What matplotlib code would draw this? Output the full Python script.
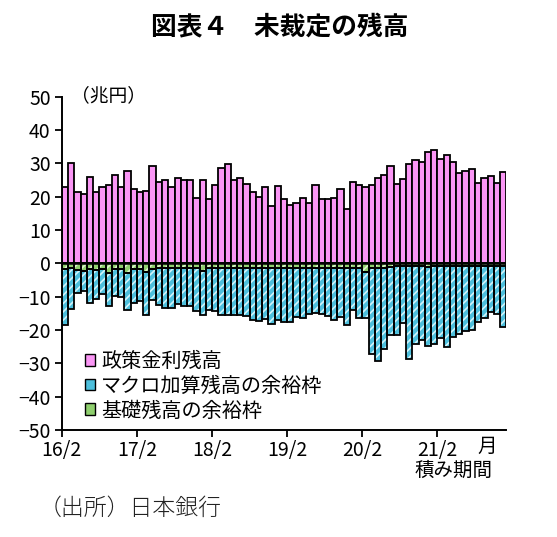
import matplotlib
matplotlib.use("Agg")
import matplotlib.pyplot as plt
from matplotlib.patches import Patch
import numpy as np

plt.rcParams['font.family'] = ['Noto Sans CJK JP', 'DejaVu Sans']
plt.rcParams['hatch.linewidth'] = 1.2

# 積み期間 16/2 .. 21/12 (monthly)
tick_labels = ['16/2', '17/2', '18/2', '19/2', '20/2', '21/2']

# 政策金利残高 (兆円)
policy = [22.9, 30.1, 21.4, 20.9, 26.0, 21.4, 22.9, 23.4, 26.6, 22.9,
          27.6, 22.3, 21.3, 21.8, 29.1, 24.4, 25.0, 22.9, 25.5, 24.9,
          24.9, 19.7, 24.9, 19.2, 23.4, 28.5, 29.7, 24.9, 25.5, 23.9,
          21.4, 19.9, 22.9, 17.2, 23.3, 19.2, 17.6, 18.2, 19.7, 18.2,
          23.4, 19.2, 19.2, 19.7, 22.3, 16.2, 24.4, 23.4, 22.9, 23.4,
          25.5, 26.6, 29.1, 23.7, 25.3, 29.9, 30.9, 30.4, 33.4, 33.9,
          31.4, 32.4, 30.4, 27.2, 27.7, 28.2, 24.2, 25.7, 26.2, 24.2,
          27.3]

# 基礎残高の余裕枠 (兆円, drawn below zero)
basic = [-1.8, -1.3, -2.0, -2.3, -1.8, -2.0, -1.8, -3.0, -1.8, -1.8,
         -3.0, -1.8, -1.8, -2.5, -1.8, -1.5, -1.5, -1.5, -1.5, -1.5,
         -1.5, -1.5, -2.2, -1.5, -1.5, -1.5, -1.5, -1.5, -1.5, -1.5,
         -1.5, -1.5, -1.5, -1.5, -1.5, -1.5, -1.5, -1.5, -1.5, -1.5,
         -1.5, -1.5, -1.5, -1.5, -1.5, -1.5, -1.5, -1.5, -2.5, -1.5,
         -1.5, -1.5, -1.2, -0.7, -0.7, -0.7, -0.7, -0.7, -1.2, -0.7,
         -0.7, -0.7, -0.7, -0.7, -0.7, -0.7, -0.7, -0.7, -0.7, -0.7,
         -0.7]

# マクロ加算残高の余裕枠 (兆円, stacked below basic)
macro = [-16.7, -12.3, -6.8, -6.0, -10.0, -8.7, -7.3, -9.8, -8.1, -8.3,
         -10.9, -10.1, -9.5, -13.1, -9.1, -11.0, -12.0, -12.0, -10.6, -11.3,
         -11.3, -12.8, -13.4, -12.4, -12.8, -14.1, -14.1, -14.1, -14.1, -14.4,
         -15.4, -15.7, -15.2, -16.7, -15.4, -16.2, -16.2, -14.7, -14.9, -13.7,
         -13.5, -13.7, -14.4, -15.5, -14.5, -17.0, -12.5, -15.0, -14.0, -25.8,
         -27.8, -24.3, -20.3, -20.8, -17.3, -28.1, -23.6, -22.3, -23.6, -23.6,
         -21.8, -24.5, -21.5, -20.5, -19.5, -19.3, -17.0, -15.8, -13.8, -14.5,
         -18.3]

PINK = '#FA96F5'
BLUE = '#4DBFDC'
BLUE_H = '#D2F4FB'
GREEN = '#8FCF6E'
GREEN_H = '#DDF2CF'

x = np.arange(len(policy))
fig = plt.figure(figsize=(5.57, 5.37), dpi=100)
ax = fig.add_axes([0.111, 0.199, 0.798, 0.621])

ax.bar(x, policy, width=1.0, color=PINK, edgecolor='black', linewidth=1.3, zorder=2)

# hatched layers: fill + hatch first, black outline on top
ax.bar(x, basic, width=1.0, color=GREEN, edgecolor=GREEN_H, hatch='////', linewidth=0, zorder=2)
ax.bar(x, basic, width=1.0, fill=False, edgecolor='black', linewidth=1.3, zorder=3)
ax.bar(x, macro, width=1.0, bottom=basic, color=BLUE, edgecolor=BLUE_H, hatch='////', linewidth=0, zorder=2)
ax.bar(x, macro, width=1.0, bottom=basic, fill=False, edgecolor='black', linewidth=1.3, zorder=3)

ax.axhline(0, color='black', linewidth=1.8, zorder=4)

ax.set_xlim(-0.5, len(policy) - 0.5)
ax.set_ylim(-50, 50)
ax.set_yticks(np.arange(-50, 51, 10))
ax.set_xticks(np.arange(len(tick_labels)) * 12 - 0.5)
ax.set_xticklabels(tick_labels)
ax.tick_params(axis='both', labelsize=14, length=5, width=1.3, direction='out')
ax.tick_params(axis='y', pad=3)
ax.tick_params(axis='x', pad=2)
for side in ['top', 'right']:
    ax.spines[side].set_visible(False)
for side in ['left', 'bottom']:
    ax.spines[side].set_linewidth(1.4)

handles = [Patch(facecolor=PINK, edgecolor='black', linewidth=1.0),
           Patch(facecolor=BLUE, edgecolor='black', linewidth=1.0),
           Patch(facecolor=GREEN, edgecolor='black', linewidth=1.0)]
labels = ['政策金利残高', 'マクロ加算残高の余裕枠', '基礎残高の余裕枠']
ax.legend(handles, labels, loc='lower left', bbox_to_anchor=(0.025, -0.01),
          frameon=False, fontsize=14.5, handlelength=0.5, handleheight=0.5,
          handletextpad=0.3, labelspacing=0.18, borderaxespad=0.2)

fig.text(0.503, 0.948, '図表４　未裁定の残高', ha='center', va='center',
         fontsize=18.5, fontweight='bold')
fig.text(0.127, 0.821, '（兆円）', ha='left', va='center', fontsize=13.5)
fig.text(0.857, 0.168, '月', ha='left', va='center', fontsize=14)
fig.text(0.815, 0.124, '積み期間', ha='center', va='center', fontsize=14)
fig.text(0.070, 0.054, '（出所）日本銀行', ha='left', va='center',
         fontsize=16.5, fontweight='light', color='#222222')

fig.savefig('out.png', dpi=100)
